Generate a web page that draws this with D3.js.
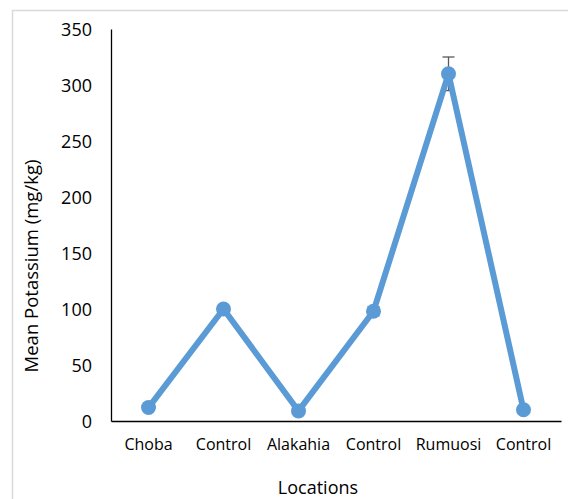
<!DOCTYPE html>
<html>
<head>
<meta charset="utf-8">
<script src="https://cdn.jsdelivr.net/npm/d3@7"></script>
<style>
  body { margin: 0; background: #fff; }
  text { font-family: "Open Sans", sans-serif; fill: #000; }
</style>
</head>
<body>
<div id="chart"></div>
<script>
// data
var locations = ["Choba", "Control", "Alakahia", "Control", "Rumuosi", "Control"];
var meanK = [12, 100, 9, 98, 310, 10];
var errK = [1, 3, 1, 4, 15, 1];
var yTicks = [0, 50, 100, 150, 200, 250, 300, 350];

var fullwidth = 568, fullheight = 499;
var margin = {top: 29, right: 7, bottom: 78, left: 111};
var width = fullwidth - margin.left - margin.right;
var height = fullheight - margin.top - margin.bottom;

var vis = d3.select("#chart").append("svg")
    .attr("width", fullwidth)
    .attr("height", fullheight);

// chart frame (cut off at right/bottom like the reference)
vis.append("rect")
    .attr("x", 12.5).attr("y", 10.5)
    .attr("width", 600).attr("height", 600)
    .attr("fill", "none")
    .attr("stroke", "#d9d9d9")
    .attr("stroke-width", 1.5);

var svg = vis.append("g")
    .attr("transform", "translate(" + margin.left + "," + margin.top + ")");

var data = locations.map(function(d, i) {
    return {key: i, name: d, value: meanK[i], err: errK[i]};
});

var xScale = d3.scaleBand()
    .domain(d3.range(locations.length))
    .range([0, width]);

var yScale = d3.scaleLinear()
    .domain([0, 350])
    .range([height, 0]);

function cx(d) { return xScale(d.key) + xScale.bandwidth() / 2; }

// axes
var yAxis = d3.axisLeft(yScale).tickValues(yTicks).tickSize(0).tickPadding(19);
var gy = svg.append("g").attr("class", "y axis").call(yAxis);
gy.select(".domain").attr("stroke", "#000").attr("stroke-width", 1.3);
gy.selectAll("text").style("font-size", "18px").attr("dy", "0.35em");

var xAxis = d3.axisBottom(xScale)
    .tickFormat(function(i) { return locations[i]; })
    .tickSize(0).tickPadding(18);
var gx = svg.append("g")
    .attr("class", "x axis")
    .attr("transform", "translate(0," + height + ")")
    .call(xAxis);
gx.select(".domain").attr("stroke", "#000").attr("stroke-width", 1.3);
gx.selectAll("text").style("font-size", "16px");

// error bars
var eb = svg.selectAll("g.err").data(data).enter().append("g").attr("class", "err");
eb.append("line")
    .attr("x1", cx).attr("x2", cx)
    .attr("y1", function(d) { return yScale(d.value - d.err); })
    .attr("y2", function(d) { return yScale(d.value + d.err); })
    .attr("stroke", "#595959").attr("stroke-width", 1.3);
eb.selectAll("line.cap")
    .data(function(d) { return [d.value - d.err, d.value + d.err].map(function(v) { return {d: d, v: v}; }); })
    .enter().append("line")
    .attr("class", "cap")
    .attr("x1", function(o) { return cx(o.d) - 6; })
    .attr("x2", function(o) { return cx(o.d) + 6; })
    .attr("y1", function(o) { return yScale(o.v); })
    .attr("y2", function(o) { return yScale(o.v); })
    .attr("stroke", "#595959").attr("stroke-width", 1.3);

// line + markers
var line = d3.line()
    .x(cx)
    .y(function(d) { return yScale(d.value); });

svg.append("path")
    .datum(data)
    .attr("d", line)
    .attr("fill", "none")
    .attr("stroke", "#5b9bd5")
    .attr("stroke-width", 6)
    .attr("stroke-linejoin", "round");

svg.selectAll("circle.pt")
    .data(data)
    .enter().append("circle")
    .attr("class", "pt")
    .attr("cx", cx)
    .attr("cy", function(d) { return yScale(d.value); })
    .attr("r", 7.5)
    .attr("fill", "#5b9bd5");

// axis titles
vis.append("text")
    .attr("x", 318).attr("y", 494)
    .attr("text-anchor", "middle")
    .style("font-size", "18px")
    .text("Locations");

vis.append("text")
    .attr("transform", "translate(38,266) rotate(-90)")
    .attr("text-anchor", "middle")
    .style("font-size", "18.5px")
    .text("Mean Potassium (mg/kg)");
</script>
</body>
</html>
